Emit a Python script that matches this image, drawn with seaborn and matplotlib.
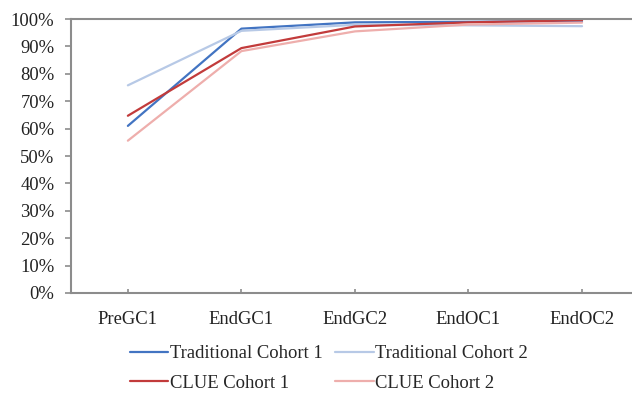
import matplotlib
matplotlib.use("Agg")
import matplotlib.pyplot as plt
import matplotlib.ticker as mticker
import numpy as np
import pandas as pd
import seaborn as sns

stages = ["PreGC1", "EndGC1", "EndGC2", "EndOC1", "EndOC2"]
traditional_1 = [61.0, 96.5, 98.8, 99.0, 99.3]
traditional_2 = [75.8, 95.7, 97.9, 97.7, 97.4]
clue_1 = [64.7, 89.4, 97.3, 98.8, 99.6]
clue_2 = [55.6, 88.3, 95.5, 98.0, 98.7]

series_names = ["Traditional Cohort 1", "Traditional Cohort 2",
                "CLUE Cohort 1", "CLUE Cohort 2"]
series_values = [traditional_1, traditional_2, clue_1, clue_2]
colors = ["#4274c2", "#b7c9e6", "#c23b3b", "#eeaeac"]

rows = []
for name, vals in zip(series_names, series_values):
    for i, v in enumerate(vals):
        rows.append({"pos": i, "stage": stages[i], "value": v, "series": name})
df = pd.DataFrame(rows)

sns.set_theme(style="white")
plt.rcParams["font.family"] = ["Liberation Serif", "DejaVu Serif"]

fig = plt.figure(figsize=(6.32, 3.93), dpi=100)
ax = fig.add_axes([0.1125, 0.2545, 0.8875, 0.697])

sns.lineplot(data=df, x="pos", y="value", hue="series", hue_order=series_names,
             palette=colors, linewidth=1.6, ax=ax, legend=False, errorbar=None)

ax.set_xlim(-0.5, 4.44)
ax.set_ylim(0, 100)
ax.set_xticks(range(len(stages)))
ax.set_xticklabels(stages)
ax.set_yticks(np.arange(0, 101, 10))
ax.yaxis.set_major_formatter(mticker.FuncFormatter(lambda v, _: f"{v:.0f}%"))
ax.set_xlabel("")
ax.set_ylabel("")

grey = "#8c8c8c"
for side in ["left", "bottom", "top"]:
    ax.spines[side].set_color(grey)
    ax.spines[side].set_linewidth(1.5)
ax.spines["right"].set_visible(False)

ax.tick_params(axis="y", direction="out", length=4, width=1.2, color=grey,
               labelsize=13.4, pad=8, left=True, labelcolor="#222222")
ax.tick_params(axis="x", direction="in", length=3, width=1.2, color=grey,
               labelsize=13.4, pad=13, bottom=True, labelcolor="#222222")

# legend fills column by column, so order entries to read row by row
order = [0, 2, 1, 3]
handles = [plt.Line2D([], [], color=colors[i], linewidth=1.6) for i in order]
labels = [series_names[i] for i in order]
fig.legend(handles, labels, loc="upper left", bbox_to_anchor=(0.205, 0.122),
           ncol=2, frameon=False, fontsize=13.4, handlelength=2.05,
           handletextpad=0.1, columnspacing=0.7, labelspacing=0.68,
           borderpad=0, borderaxespad=0)

fig.savefig("out.png", dpi=100)
